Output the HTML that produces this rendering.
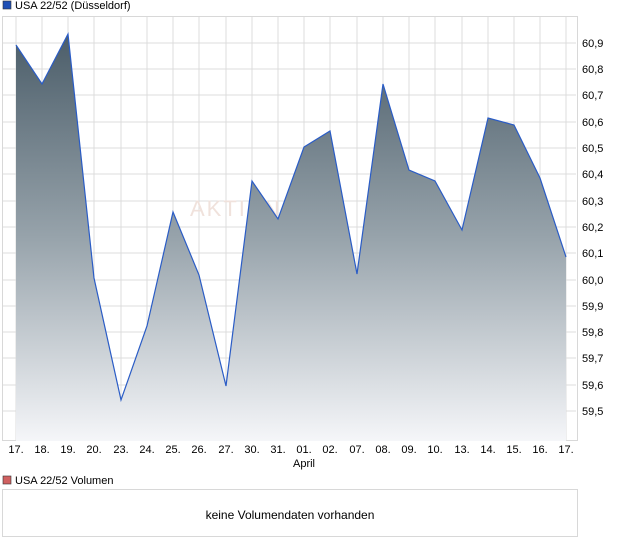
<!DOCTYPE html>
<html><head><meta charset="utf-8"><style>
body{margin:0;background:#fff;width:620px;height:546px;overflow:hidden;font-family:"Liberation Sans",sans-serif;}
</style></head><body>
<svg width="620" height="546" xmlns="http://www.w3.org/2000/svg" font-family="Liberation Sans, sans-serif">
<defs>
<linearGradient id="g" x1="0" y1="0" x2="0" y2="1" gradientUnits="userSpaceOnUse" x1a="0">
</linearGradient>
<linearGradient id="gr" gradientUnits="userSpaceOnUse" x1="0" y1="34" x2="0" y2="441">
<stop offset="0" stop-color="#4b5d69"/>
<stop offset="0.5" stop-color="#97a3ab"/>
<stop offset="1" stop-color="#f5f6f9"/>
</linearGradient>
</defs>
<rect x="3" y="1" width="8" height="8" fill="#1f4fb5" stroke="#333" stroke-width="0.6"/>
<text x="15" y="9" font-size="11" fill="#000">USA 22/52 (Düsseldorf)</text>
<rect x="2.5" y="16.5" width="575" height="424" fill="#fff" stroke="#d8d8d8"/>
<g stroke="#dcdcdc" stroke-width="1">
<line x1="16" y1="17" x2="16" y2="441"/><line x1="42" y1="17" x2="42" y2="441"/><line x1="68" y1="17" x2="68" y2="441"/><line x1="94" y1="17" x2="94" y2="441"/><line x1="121" y1="17" x2="121" y2="441"/><line x1="147" y1="17" x2="147" y2="441"/><line x1="173" y1="17" x2="173" y2="441"/><line x1="199" y1="17" x2="199" y2="441"/><line x1="226" y1="17" x2="226" y2="441"/><line x1="252" y1="17" x2="252" y2="441"/><line x1="278" y1="17" x2="278" y2="441"/><line x1="304" y1="17" x2="304" y2="441"/><line x1="330" y1="17" x2="330" y2="441"/><line x1="357" y1="17" x2="357" y2="441"/><line x1="383" y1="17" x2="383" y2="441"/><line x1="409" y1="17" x2="409" y2="441"/><line x1="435" y1="17" x2="435" y2="441"/><line x1="462" y1="17" x2="462" y2="441"/><line x1="488" y1="17" x2="488" y2="441"/><line x1="514" y1="17" x2="514" y2="441"/><line x1="540" y1="17" x2="540" y2="441"/><line x1="566" y1="17" x2="566" y2="441"/>
<line x1="3" y1="43" x2="576" y2="43"/><line x1="3" y1="69" x2="576" y2="69"/><line x1="3" y1="95" x2="576" y2="95"/><line x1="3" y1="122" x2="576" y2="122"/><line x1="3" y1="148" x2="576" y2="148"/><line x1="3" y1="174" x2="576" y2="174"/><line x1="3" y1="201" x2="576" y2="201"/><line x1="3" y1="227" x2="576" y2="227"/><line x1="3" y1="253" x2="576" y2="253"/><line x1="3" y1="280" x2="576" y2="280"/><line x1="3" y1="306" x2="576" y2="306"/><line x1="3" y1="332" x2="576" y2="332"/><line x1="3" y1="358" x2="576" y2="358"/><line x1="3" y1="385" x2="576" y2="385"/><line x1="3" y1="411" x2="576" y2="411"/>
</g>
<text x="190" y="216" font-size="22" fill="#f0e2dc" letter-spacing="2">AKTIEN</text>
<polygon fill="url(#gr)" points="16,441 16,45 42,84 68,34 94,278 121,400 147,326 173,212 199,275 226,386 252,181 278,219 304,147 330,131 357,274 383,84 409,170 435,181 462,230 488,118 514,125 540,178 566,257 566,441"/>
<polyline fill="none" stroke="#2a5cc6" stroke-width="1.2" points="16,45 42,84 68,34 94,278 121,400 147,326 173,212 199,275 226,386 252,181 278,219 304,147 330,131 357,274 383,84 409,170 435,181 462,230 488,118 514,125 540,178 566,257"/>
<g font-size="11" fill="#000">
<text x="582" y="47">60,9</text><text x="582" y="73">60,8</text><text x="582" y="99">60,7</text><text x="582" y="126">60,6</text><text x="582" y="152">60,5</text><text x="582" y="178">60,4</text><text x="582" y="205">60,3</text><text x="582" y="231">60,2</text><text x="582" y="257">60,1</text><text x="582" y="284">60,0</text><text x="582" y="310">59,9</text><text x="582" y="336">59,8</text><text x="582" y="362">59,7</text><text x="582" y="389">59,6</text><text x="582" y="415">59,5</text>
</g>
<g font-size="11" fill="#000" text-anchor="middle">
<text x="16" y="453">17.</text><text x="42" y="453">18.</text><text x="68" y="453">19.</text><text x="94" y="453">20.</text><text x="121" y="453">23.</text><text x="147" y="453">24.</text><text x="173" y="453">25.</text><text x="199" y="453">26.</text><text x="226" y="453">27.</text><text x="252" y="453">30.</text><text x="278" y="453">31.</text><text x="304" y="453">01.</text><text x="330" y="453">02.</text><text x="357" y="453">07.</text><text x="383" y="453">08.</text><text x="409" y="453">09.</text><text x="435" y="453">10.</text><text x="462" y="453">13.</text><text x="488" y="453">14.</text><text x="514" y="453">15.</text><text x="540" y="453">16.</text><text x="566" y="453">17.</text>
<text x="304" y="467">April</text>
</g>
<rect x="3" y="476" width="8" height="8" fill="#d06060" stroke="#333" stroke-width="0.6"/>
<text x="15" y="484" font-size="11" fill="#000">USA 22/52 Volumen</text>
<rect x="2.5" y="489.5" width="575" height="47" fill="#fff" stroke="#d8d8d8"/>
<text x="290" y="519" font-size="12" fill="#000" text-anchor="middle">keine Volumendaten vorhanden</text>
</svg>
</body></html>
